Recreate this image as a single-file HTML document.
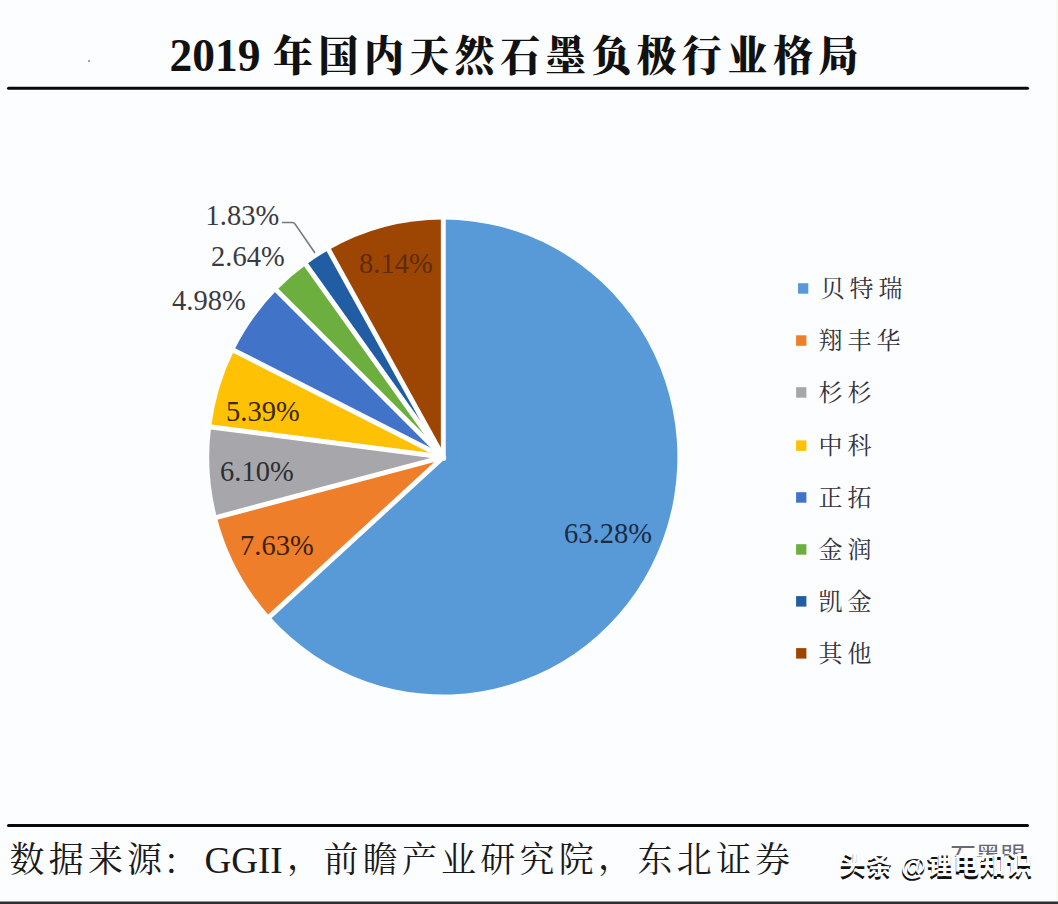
<!DOCTYPE html>
<html><head><meta charset="utf-8">
<style>
html,body{margin:0;padding:0;}
body{width:1058px;height:904px;background:#fcfdff;position:relative;overflow:hidden;}
svg{position:absolute;left:0;top:0;}
.t1{font-family:"Liberation Serif",serif;font-weight:700;font-size:45.5px;fill:#111;}
.t2{font-family:"Liberation Serif","Noto Serif CJK SC",serif;font-weight:900;font-size:42px;letter-spacing:5.85px;fill:#111;}
.pl{font-family:"Liberation Serif",serif;font-size:28.5px;fill:#3b3a40;}
.lg{font-family:"Liberation Serif","Noto Serif CJK SC",serif;font-size:24px;fill:#34323a;letter-spacing:5px;}
.s1{font-family:"Liberation Serif","Noto Serif CJK SC",serif;font-size:35px;fill:#1a1a1a;letter-spacing:4.2px;}
.s2{font-family:"Liberation Serif",serif;font-size:37px;fill:#1a1a1a;}
.wm{font-family:"Liberation Sans","Noto Sans CJK SC",sans-serif;font-size:26px;font-weight:700;fill:#111;}
</style></head><body>
<svg width="1058" height="904" viewBox="0 0 1058 904">
<text class="t1" x="169.5" y="70.5">2019</text>
<g transform="translate(273,70.8) scale(0.95,1)"><text class="t2" x="0" y="0">年国内天然石墨负极行业格局</text></g>
<rect x="7" y="86.8" width="1022" height="3" rx="1.5" fill="#0a0a0a"/>
<g transform="translate(443.3,457.05) scale(0.9857,1)">
<path d="M0,0 L0.00,-237.50 A237.5,237.5 0 1 1 -176.03,159.44 Z" fill="#579AD7"/>
<path d="M0,0 L-176.03,159.44 A237.5,237.5 0 0 1 -229.73,60.26 Z" fill="#EE7E2A"/>
<path d="M0,0 L-229.73,60.26 A237.5,237.5 0 0 1 -235.59,-30.03 Z" fill="#A7A7AB"/>
<path d="M0,0 L-235.59,-30.03 A237.5,237.5 0 0 1 -212.23,-106.60 Z" fill="#FFC103"/>
<path d="M0,0 L-212.23,-106.60 A237.5,237.5 0 0 1 -169.11,-166.76 Z" fill="#4173C8"/>
<path d="M0,0 L-169.11,-166.76 A237.5,237.5 0 0 1 -139.25,-192.40 Z" fill="#6CAF3E"/>
<path d="M0,0 L-139.25,-192.40 A237.5,237.5 0 0 1 -116.25,-207.10 Z" fill="#215DA2"/>
<path d="M0,0 L-116.25,-207.10 A237.5,237.5 0 0 1 0.00,-237.50 Z" fill="#9D4503"/>
<g stroke="#fff" stroke-width="5" stroke-linecap="butt">
<line x1="0" y1="0" x2="0.00" y2="-241.50"/>
<line x1="0" y1="0" x2="-178.99" y2="162.12"/>
<line x1="0" y1="0" x2="-233.60" y2="61.28"/>
<line x1="0" y1="0" x2="-239.56" y2="-30.53"/>
<line x1="0" y1="0" x2="-215.81" y2="-108.40"/>
<line x1="0" y1="0" x2="-171.96" y2="-169.57"/>
<line x1="0" y1="0" x2="-141.59" y2="-195.64"/>
<line x1="0" y1="0" x2="-118.21" y2="-210.59"/>
</g>
<circle cx="0" cy="1" r="3" fill="#fff"/>
</g>
<path d="M282,222.5 L292,222.5 Q294,222.5 295.2,224.2 L315,253" fill="none" stroke="#787878" stroke-width="1.5"/>
<text class="pl" x="564" y="542.5" style="fill:#1c2b44">63.28%</text>
<text class="pl" x="359" y="272.5" style="fill:#5e2c0c">8.14%</text>
<text class="pl" x="205.5" y="225">1.83%</text>
<text class="pl" x="211" y="266">2.64%</text>
<text class="pl" x="172" y="310">4.98%</text>
<text class="pl" x="226" y="421" style="fill:#3a2a00">5.39%</text>
<text class="pl" x="220" y="480.5" style="fill:#2e2e32">6.10%</text>
<text class="pl" x="240" y="555" style="fill:#3f1f08">7.63%</text>
<rect x="798.0" y="283.2" width="10.3" height="10.5" fill="#579AD7"/>
<text class="lg" x="820.5" y="296.9">贝特瑞</text>
<rect x="796.1" y="335.3" width="10.3" height="10.5" fill="#EE7E2A"/>
<text class="lg" x="818.6" y="349.0">翔丰华</text>
<rect x="796.1" y="387.2" width="10.3" height="10.5" fill="#A7A7AB"/>
<text class="lg" x="818.6" y="400.9">杉杉</text>
<rect x="796.1" y="440.4" width="10.3" height="10.5" fill="#FFC103"/>
<text class="lg" x="818.6" y="454.1">中科</text>
<rect x="796.1" y="492.2" width="10.3" height="10.5" fill="#4173C8"/>
<text class="lg" x="818.6" y="505.9">正拓</text>
<rect x="796.1" y="544.2" width="10.3" height="10.5" fill="#6CAF3E"/>
<text class="lg" x="818.6" y="557.9">金润</text>
<rect x="796.1" y="596.1" width="10.3" height="10.5" fill="#215DA2"/>
<text class="lg" x="818.6" y="609.8">凯金</text>
<rect x="796.1" y="648.1" width="10.3" height="10.5" fill="#9D4503"/>
<text class="lg" x="818.6" y="661.8">其他</text>
<rect x="7" y="824" width="1022" height="3" rx="1.5" fill="#0a0a0a"/>
<text class="s1" x="9.5" y="871.5">数据来源</text>
<text class="s1" x="163.3" y="874">：</text>
<text class="s2" x="204.5" y="872.5">GGII</text>
<text class="s1" x="286.9" y="868.5">，</text>
<text class="s1" x="323.5" y="871.5">前瞻产业研究院</text>
<text class="s1" x="597.9" y="868.5">，</text>
<text class="s1" x="637.5" y="871.5">东北证券</text>
<clipPath id="gc"><rect x="940" y="840" width="100" height="17"/></clipPath>
<text x="950" y="866" clip-path="url(#gc)" style="font-family:'Liberation Sans','Noto Sans CJK SC',sans-serif;font-size:26px;fill:#6a6878;letter-spacing:-1px">石墨盟</text>
<text class="wm" x="839.5" y="876.5" style="letter-spacing:0.6px">头条 @锂电知识</text>
<text class="wm" x="839.8" y="873.8" style="letter-spacing:0.6px;fill:#fdfdfd">头条 @锂电知识</text>
<rect x="0" y="901.5" width="1058" height="3" fill="#2c3030"/>
<rect x="1056" y="0" width="2" height="901" fill="#f7f9f2"/>
<circle cx="89" cy="61" r="1" fill="#888"/>
</svg>
</body></html>
